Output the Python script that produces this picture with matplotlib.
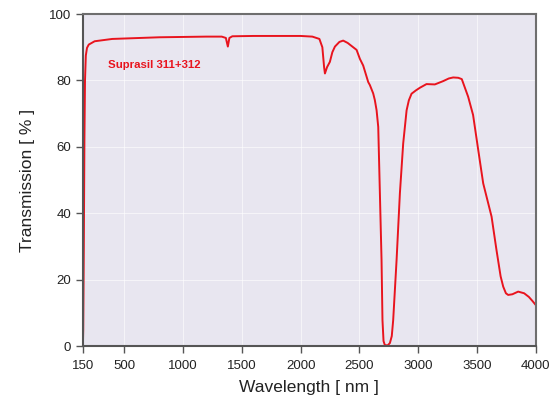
"""
Transmission curve of Suprasil 311+312, 150-4000 nm.
"""
import numpy as np
import matplotlib
matplotlib.use("Agg")
import matplotlib.pyplot as plt

plt.rcParams["font.family"] = ["Liberation Sans", "DejaVu Sans"]

# =========================================================================
# DATA
# =========================================================================

wavelength_nm = [
    150, 153, 158, 163, 168, 175, 185, 200, 250, 400, 800, 1200, 1330, 1365,
    1382, 1395, 1420, 1600, 2000, 2100, 2160, 2185, 2200, 2207, 2225, 2249,
    2270, 2292, 2330, 2362, 2400, 2476, 2504, 2532, 2575, 2589, 2617, 2631,
    2646, 2660, 2674, 2688, 2696, 2705, 2716, 2740, 2759, 2775, 2787, 2816,
    2844, 2872, 2901, 2920, 2943, 2980, 3014, 3070, 3141, 3212, 3260, 3297,
    3340, 3370, 3424, 3466, 3510, 3552, 3623, 3665, 3700, 3722, 3745, 3764,
    3800, 3849, 3900, 3940, 3970, 4000,
]
transmission_pct = [
    0.0, 5.0, 30.0, 62.0, 80.0, 87.5, 89.8, 90.8, 91.8, 92.5, 93.0, 93.2,
    93.2, 92.8, 90.2, 92.8, 93.3, 93.4, 93.4, 93.2, 92.5, 90.0, 84.0, 82.1,
    84.0, 85.6, 88.5, 90.2, 91.6, 92.0, 91.3, 89.2, 86.5, 84.5, 79.5, 78.6,
    76.1, 74.1, 71.0, 66.0, 46.0, 26.0, 7.8, 1.5, 0.3, 0.2, 0.9, 3.0,
    7.8, 26.0, 46.0, 61.0, 71.0, 74.0, 76.0, 77.0, 77.8, 78.9, 78.8, 79.8,
    80.6, 80.9, 80.8, 80.4, 75.1, 69.6, 59.0, 49.0, 39.0, 28.9, 21.0, 17.9,
    15.9, 15.4, 15.6, 16.4, 15.9, 14.8, 13.6, 12.3,
]

x_ticks = [150, 500, 1000, 1500, 2000, 2500, 3000, 3500, 4000]
y_ticks = [0, 20, 40, 60, 80, 100]

LABEL = "Suprasil 311+312"
RED = "#e8141e"
BG = "#e8e6f0"


def main():
    fig = plt.figure(figsize=(5.6, 4.01), dpi=100)
    ax = fig.add_axes([0.148, 0.137, 0.809, 0.828])
    ax.set_facecolor(BG)

    ax.plot(wavelength_nm, transmission_pct, color=RED, lw=1.4,
            solid_joinstyle="round")

    ax.set_xlim(150, 4000)
    ax.set_ylim(0, 100)
    ax.set_xticks(x_ticks)
    ax.set_yticks(y_ticks)
    ax.grid(True, color="white", lw=0.8, alpha=0.6)
    ax.set_axisbelow(True)

    for side in ("left", "bottom"):
        ax.spines[side].set_color("#555555")
        ax.spines[side].set_linewidth(1.5)
    for side in ("top", "right"):
        ax.spines[side].set_color("#6e6e6e")
        ax.spines[side].set_linewidth(1.5)

    ax.tick_params(axis="both", direction="out", length=5, width=1,
                   color="#555555", labelsize=9.5, labelcolor="#222222")
    ax.tick_params(axis="x", pad=5)

    ax.set_xlabel("Wavelength [ nm ]", fontsize=12.5, color="#222222", labelpad=6)
    ax.set_ylabel("Transmission [ % ]", fontsize=12.5, color="#222222", labelpad=10)

    ax.text(0.055, 0.848, LABEL, transform=ax.transAxes, color=RED,
            fontsize=8.2, fontweight="bold", ha="left", va="center")

    fig.savefig("out.png", dpi=100)


if __name__ == "__main__":
    main()
